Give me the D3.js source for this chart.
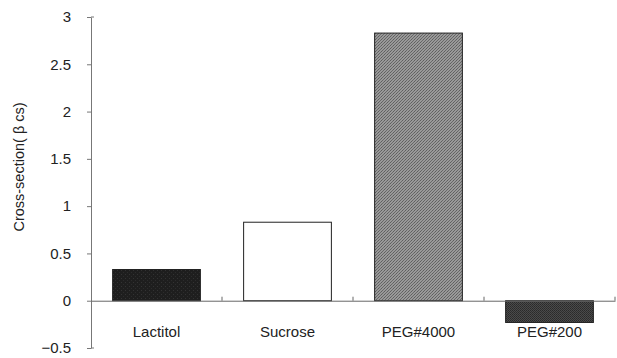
<!DOCTYPE html>
<html>
<head>
<meta charset="utf-8">
<script src="https://cdn.jsdelivr.net/npm/d3@7"></script>
<style>
  body { margin: 0; background: #fff; }
  text { font-family: "Liberation Sans", Arial, sans-serif; fill: #222; }
</style>
</head>
<body>
<div class="canvas"></div>
<script>
var width = 617,
   height = 358;

// data
var categories = ['Lactitol', 'Sucrose', 'PEG#4000', 'PEG#200'];
var values = [0.33, 0.83, 2.83, -0.23];
var yTicks = [-0.5, 0, 0.5, 1, 1.5, 2, 2.5, 3];
var fills = ['url(#darkNoise)', '#fff', 'url(#grayDots)', 'url(#darkDots)'];

var margin = {top: 17, right: 2, bottom: 10, left: 91};

var svg = d3.select('.canvas')
   .append('svg')
   .attr('width', width)
   .attr('height', height);

// textures for the bars
var defs = svg.append('defs');

var p1 = defs.append('pattern')
   .attr('id', 'darkNoise')
   .attr('width', 4).attr('height', 4)
   .attr('patternUnits', 'userSpaceOnUse');
p1.append('rect').attr('width', 4).attr('height', 4).attr('fill', '#1e1e1e');
p1.append('rect').attr('x', 1).attr('y', 2).attr('width', 1).attr('height', 1).attr('fill', '#333');
p1.append('rect').attr('x', 3).attr('y', 0).attr('width', 1).attr('height', 1).attr('fill', '#2c2c2c');

var p2 = defs.append('pattern')
   .attr('id', 'grayDots')
   .attr('width', 3).attr('height', 3)
   .attr('patternUnits', 'userSpaceOnUse');
p2.append('rect').attr('width', 3).attr('height', 3).attr('fill', '#999');
p2.append('rect').attr('width', 1).attr('height', 1).attr('fill', '#5e5e5e');
p2.append('rect').attr('x', 2).attr('y', 1).attr('width', 1).attr('height', 1).attr('fill', '#6a6a6a');
p2.append('rect').attr('x', 1).attr('y', 2).attr('width', 1).attr('height', 1).attr('fill', '#666');

var p3 = defs.append('pattern')
   .attr('id', 'darkDots')
   .attr('width', 2).attr('height', 2)
   .attr('patternUnits', 'userSpaceOnUse');
p3.append('rect').attr('width', 2).attr('height', 2).attr('fill', '#4a4a4a');
p3.append('rect').attr('width', 1).attr('height', 1).attr('fill', '#2a2a2a');
p3.append('rect').attr('x', 1).attr('y', 1).attr('width', 1).attr('height', 1).attr('fill', '#303030');

var x = d3.scaleBand()
   .domain(categories)
   .range([margin.left, width - margin.right])
   .paddingInner(0.33)
   .paddingOuter(0.165);

var y = d3.scaleLinear()
   .domain([-0.5, 3])
   .range([348, margin.top]);

// bars
svg.append('g')
   .selectAll('rect')
   .data(values)
   .enter().append('rect')
      .attr('x', (d, i) => x(categories[i]))
      .attr('y', d => y(Math.max(0, d)))
      .attr('width', x.bandwidth())
      .attr('height', d => Math.abs(y(d) - y(0)))
      .attr('fill', (d, i) => fills[i])
      .attr('stroke', '#222')
      .attr('stroke-width', 1);

// y axis
var yAxis = svg.append('g')
   .attr('transform', 'translate(' + margin.left + ',0)')
   .call(d3.axisLeft(y)
      .tickValues(yTicks)
      .tickFormat(d3.format('~g'))
      .tickSize(4)
      .tickSizeOuter(0)
      .tickPadding(16));
yAxis.select('.domain').attr('stroke', '#777');
yAxis.selectAll('line').attr('stroke', '#777');
yAxis.selectAll('text').attr('font-size', 15).style('fill', '#222');

// small inward stubs at the ends of the y axis
svg.append('g')
   .selectAll('line')
   .data(y.domain())
   .enter().append('line')
      .attr('x1', margin.left).attr('x2', margin.left + 3)
      .attr('y1', d => y(d)).attr('y2', d => y(d))
      .attr('stroke', '#777');

// x axis line at zero with ticks between categories
var xAxis = svg.append('g')
   .attr('transform', 'translate(0,' + y(0) + ')')
   .call(d3.axisBottom(x)
      .tickSize(0)
      .tickPadding(26));
xAxis.select('.domain').attr('stroke', '#666');
xAxis.selectAll('text').attr('font-size', 15).style('fill', '#222');

var step = x.step();
svg.append('g')
   .selectAll('line')
   .data(categories)
   .enter().append('line')
      .attr('x1', d => x(d) - x.paddingOuter() * step + step)
      .attr('x2', d => x(d) - x.paddingOuter() * step + step)
      .attr('y1', y(0))
      .attr('y2', y(0) - 4)
      .attr('stroke', '#666');

// y title
svg.append('text')
   .attr('transform', 'translate(24,' + 167 + ') rotate(-90)')
   .attr('text-anchor', 'middle')
   .attr('font-size', 14.5)
   .text('Cross-section( β cs)');
</script>
</body>
</html>
